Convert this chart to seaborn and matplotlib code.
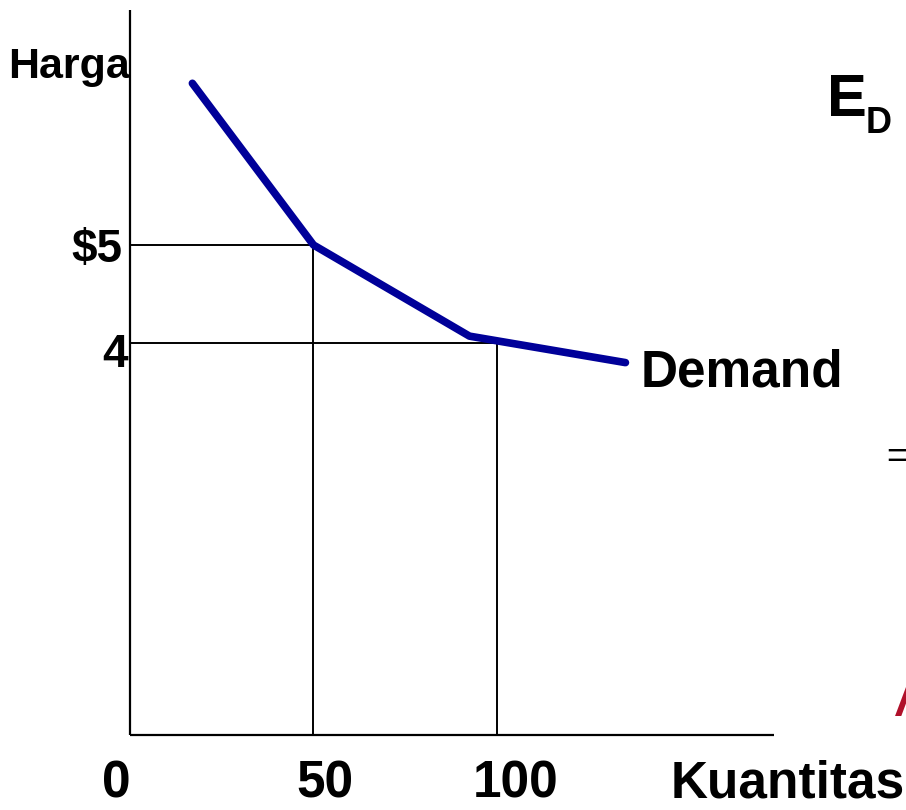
import matplotlib
matplotlib.use('Agg')
import matplotlib.pyplot as plt
import seaborn as sns
import pandas as pd

# data
demand_q = [17, 50, 92.5, 135]
demand_p = [6.65, 5.0, 4.07, 3.8]
guide_q = [50, 100]
guide_p = [5, 4]
x_labels = ['0', '50', '100']
x_label_pos = [-3.8, 53, 105]

sns.set_style('white')
plt.rcParams['font.family'] = ['Liberation Sans', 'DejaVu Sans']
plt.rcParams['text.color'] = 'black'

fig = plt.figure(figsize=(9.06, 8.1), dpi=100)
ax = fig.add_axes([0, 0, 1, 1])
ax.set_xlim(-130 / 3.67, (906 - 130) / 3.67)
ax.set_ylim(-75 / 98, 735 / 98)
ax.axis('off')

# eixos
ax.plot([0, 0], [0, 7.4], color='black', lw=1.6, solid_capstyle='butt')
ax.plot([0, 175.5], [0, 0], color='black', lw=1.6, solid_capstyle='butt')

# linhas guia
for q, p in zip(guide_q, guide_p):
    ax.plot([0, q], [p, p], color='black', lw=1.4)
    ax.plot([q, q], [0, p], color='black', lw=1.4)

# curva de demanda
df = pd.DataFrame({'q': demand_q, 'p': demand_p})
sns.lineplot(data=df, x='q', y='p', ax=ax, color='#000099', lw=5.5,
             sort=False, solid_capstyle='round', solid_joinstyle='round')

# textos
ax.text(0, 6.70, 'Harga', fontsize=31, fontweight='bold', ha='right', va='baseline')
ax.text(-2.2, 4.83, '$5', fontsize=33, fontweight='bold', ha='right', va='baseline')
ax.text(-0.5, 3.76, '4', fontsize=33, fontweight='bold', ha='right', va='baseline')
for lab, xp in zip(x_labels, x_label_pos):
    ax.text(xp, -0.64, lab, fontsize=37, fontweight='bold', ha='center', va='baseline')
ax.text(211.2, -0.64, 'Kuantitas', fontsize=37, fontweight='bold', ha='right', va='baseline')
ax.text(139, 3.56, 'Demand', fontsize=37, fontweight='bold', ha='left', va='baseline')
ax.text(190, 6.32, 'E', fontsize=43, fontweight='bold', ha='left', va='baseline')
ax.text(200.5, 6.14, 'D', fontsize=26, fontweight='bold', ha='left', va='baseline')
ax.text(206, 2.73, '=', fontsize=26, ha='left', va='baseline')
ax.text(209, 0.2, '/', fontsize=38, fontweight='bold', style='italic', color='#b0102a',
        ha='left', va='baseline')

fig.savefig('out.png', dpi=100)
